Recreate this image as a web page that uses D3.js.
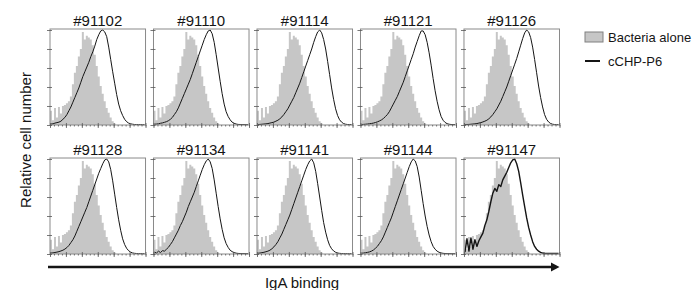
<!DOCTYPE html>
<html>
<head>
<meta charset="utf-8">
<script src="https://cdn.jsdelivr.net/npm/d3@7"></script>
<style>
  body { margin: 0; background: #fff; }
  svg { display: block; font-family: "Liberation Sans", Arial, sans-serif; }
  .frame { fill: none; stroke: #8a8a8a; stroke-width: 1; }
  .axis line { stroke: #555; stroke-width: 0.8; }
  .axis path { display: none; }
</style>
</head>
<body>
<svg id="chart" width="692" height="290"></svg>
<script>
// sample names, in reading order (two rows of five)
const samples = ["#91102", "#91110", "#91114", "#91121", "#91126",
                 "#91128", "#91134", "#91141", "#91144", "#91147"];

const binCount = 48;

// control histogram, normalised to its mode
const bacteriaAlone = [0.15,0.05,0.18,0.08,0.19,0.12,0.2,0.21,0.23,0.25,0.3,0.43,0.55,0.62,0.72,0.8,
  0.98,0.9,0.94,0.92,0.9,0.84,0.74,0.62,0.51,0.41,0.33,0.25,0.18,0.13,0.08,0.04,
  0.015,0,0,0,0,0,0,0,0,0,0,0,0,0,0,0];

// cCHP-P6 histograms, one per sample
const cchp_91102 = [0.01,0.012,0.02,0.025,0.03,0.04,0.06,0.08,0.11,0.15,0.19,0.24,0.29,0.34,0.39,0.45,
  0.51,0.56,0.61,0.66,0.72,0.77,0.83,0.9,0.95,0.99,1.0,0.98,0.93,0.82,0.69,0.56,
  0.44,0.32,0.22,0.15,0.1,0.06,0.035,0.02,0.012,0.008,0.005,0.005,0.004,0.004,0.003,0.003];
const cchp_91110 = [0.008,0.01,0.012,0.018,0.022,0.028,0.035,0.045,0.06,0.08,0.11,0.14,0.18,0.23,0.28,0.33,
  0.38,0.43,0.48,0.54,0.6,0.66,0.72,0.78,0.84,0.9,0.95,0.99,1.0,0.96,0.87,0.74,
  0.6,0.46,0.33,0.22,0.14,0.09,0.055,0.03,0.018,0.01,0.006,0.005,0.004,0.004,0.003,0.003];
const cchp_91114 = [0.005,0.006,0.008,0.01,0.012,0.015,0.02,0.025,0.03,0.04,0.05,0.065,0.085,0.11,0.14,0.17,
  0.21,0.25,0.29,0.34,0.39,0.44,0.5,0.56,0.62,0.68,0.74,0.8,0.87,0.93,0.98,1.0,
  0.97,0.9,0.8,0.67,0.53,0.39,0.27,0.17,0.1,0.055,0.03,0.015,0.008,0.005,0.005,0.004];
const cchp_91121 = [0.005,0.006,0.008,0.01,0.013,0.016,0.02,0.026,0.033,0.042,0.053,0.068,0.088,0.11,0.14,0.18,
  0.22,0.26,0.3,0.35,0.4,0.45,0.51,0.57,0.63,0.69,0.75,0.82,0.88,0.94,0.99,0.99,
  0.95,0.87,0.76,0.63,0.49,0.36,0.25,0.16,0.09,0.05,0.027,0.014,0.008,0.005,0.004,0.004];
const cchp_91126 = [0.004,0.005,0.006,0.008,0.01,0.012,0.015,0.02,0.025,0.032,0.04,0.05,0.065,0.085,0.11,0.14,
  0.17,0.21,0.25,0.3,0.35,0.4,0.46,0.52,0.58,0.64,0.7,0.77,0.84,0.91,0.97,1.0,
  0.98,0.92,0.82,0.69,0.55,0.41,0.29,0.19,0.11,0.06,0.032,0.016,0.008,0.005,0.004,0.004];
const cchp_91128 = [0.01,0.012,0.016,0.02,0.025,0.032,0.04,0.052,0.068,0.09,0.12,0.15,0.19,0.24,0.29,0.34,
  0.39,0.44,0.49,0.55,0.61,0.67,0.73,0.79,0.85,0.9,0.95,0.99,1.0,0.97,0.89,0.77,
  0.63,0.49,0.36,0.25,0.16,0.1,0.06,0.035,0.02,0.011,0.007,0.005,0.004,0.004,0.003,0.003];
const cchp_91134 = [0.02,0.01,0.03,0.015,0.035,0.03,0.05,0.07,0.1,0.13,0.17,0.21,0.25,0.3,0.34,0.39,
  0.44,0.5,0.55,0.6,0.65,0.71,0.77,0.83,0.89,0.94,0.98,1.0,0.97,0.9,0.78,0.64,
  0.5,0.37,0.26,0.17,0.11,0.07,0.04,0.025,0.015,0.009,0.006,0.005,0.004,0.004,0.003,0.003];
const cchp_91141 = [0.008,0.01,0.014,0.018,0.024,0.03,0.04,0.055,0.075,0.1,0.13,0.17,0.21,0.26,0.31,0.36,
  0.41,0.47,0.53,0.59,0.65,0.71,0.77,0.83,0.89,0.94,0.98,1.0,0.96,0.87,0.74,0.6,
  0.46,0.33,0.23,0.15,0.09,0.055,0.032,0.018,0.01,0.007,0.005,0.004,0.004,0.003,0.003,0.003];
const cchp_91144 = [0.008,0.01,0.013,0.017,0.022,0.03,0.042,0.06,0.08,0.11,0.14,0.18,0.23,0.28,0.33,0.38,
  0.44,0.5,0.56,0.62,0.68,0.74,0.8,0.86,0.92,0.97,1.0,0.98,0.92,0.81,0.67,0.53,
  0.4,0.29,0.2,0.13,0.08,0.05,0.03,0.018,0.011,0.007,0.005,0.004,0.004,0.003,0.003,0.003];
const cchp_91147 = [0.02,0.16,0.03,0.17,0.05,0.15,0.08,0.14,0.18,0.22,0.3,0.36,0.45,0.55,0.64,0.69,
  0.66,0.73,0.71,0.78,0.82,0.86,0.91,0.96,0.99,1.0,0.95,0.87,0.75,0.62,0.5,0.38,
  0.28,0.2,0.13,0.08,0.05,0.03,0.018,0.01,0.005,0.005,0.005,0.005,0.005,0.005,0.005,0.005];

const cchpSeries = [cchp_91102, cchp_91110, cchp_91114, cchp_91121, cchp_91126,
                    cchp_91128, cchp_91134, cchp_91141, cchp_91144, cchp_91147];

const legendLabels = ["Bacteria alone", "cCHP-P6"];
const xTitle = "IgA binding";
const yTitle = "Relative cell number";

const svg = d3.select("#chart");
const ink = "#151515";

const col = d3.scaleBand().domain(d3.range(5)).range([50, 559.5]).paddingInner(0.077);
const row = d3.scaleBand().domain([0, 1]).range([29, 254]).paddingInner(0.256);
const bw = col.bandwidth();
const bh = row.bandwidth();

const x = d3.scaleLinear().domain([0, binCount]).range([0, bw]);
const y = d3.scaleLinear().domain([0, 1]).range([bh, 1]);
const decades = d3.scaleLinear().domain([0, 6]).range([0, bw]);
const minor = d3.scaleLinear().domain([0, 24]).range([0, bw]);

const area = d3.area()
    .curve(d3.curveStepAfter)
    .x((d, i) => x(i))
    .y0(bh)
    .y1(d => y(d));

const line = d3.line()
    .x((d, i) => x(i + 0.5))
    .y(d => y(d));

samples.forEach((name, i) => {
    const c = i % 5, r = Math.floor(i / 5);
    const g = svg.append("g").attr("transform", `translate(${col(c)},${row(r)})`);

    g.append("path")
        .datum(bacteriaAlone.concat([bacteriaAlone[bacteriaAlone.length - 1]]))
        .attr("d", area)
        .attr("fill", "#c6c6c6");

    g.append("path")
        .datum(cchpSeries[i])
        .attr("d", line)
        .attr("fill", "none")
        .attr("stroke", ink)
        .attr("stroke-width", i === 9 ? 1.4 : 1)
        .attr("stroke-linejoin", "round");

    g.append("rect").attr("class", "frame").attr("width", bw).attr("height", bh);

    const left = g.append("g").attr("class", "axis")
        .call(d3.axisLeft(y).ticks(5).tickSize(3).tickFormat(""));
    left.selectAll(".tick line").attr("x1", 2);

    const bottom = g.append("g").attr("class", "axis").attr("transform", `translate(0,${bh})`)
        .call(d3.axisBottom(decades).ticks(6).tickSize(3).tickFormat(""));
    bottom.selectAll(".tick line").attr("y1", -2);

    g.append("g").attr("class", "axis").attr("transform", `translate(0,${bh})`)
        .call(d3.axisBottom(minor).ticks(24).tickSize(1.5).tickFormat(""));

    svg.append("text")
        .attr("x", col(c) + bw / 2)
        .attr("y", row(r) - 3.5)
        .attr("text-anchor", "middle")
        .attr("font-size", 15)
        .attr("fill", ink)
        .text(name);
});

// x axis arrow
const arrowY = 267;
svg.append("line")
    .attr("x1", 48).attr("x2", 552)
    .attr("y1", arrowY).attr("y2", arrowY)
    .attr("stroke", ink).attr("stroke-width", 2.4);
svg.append("path")
    .attr("d", `M551,${arrowY - 4.5}L559.5,${arrowY}L551,${arrowY + 4.5}Z`)
    .attr("fill", ink);

svg.append("text")
    .attr("x", 302).attr("y", 288)
    .attr("text-anchor", "middle")
    .attr("font-size", 15)
    .attr("fill", ink)
    .text(xTitle);

svg.append("text")
    .attr("transform", "translate(31,140) rotate(-90)")
    .attr("text-anchor", "middle")
    .attr("font-size", 15)
    .attr("fill", ink)
    .text(yTitle);

// legend
const legend = svg.append("g").attr("transform", "translate(585,32)");
legend.append("rect")
    .attr("width", 18).attr("height", 10)
    .attr("fill", "#c6c6c6").attr("stroke", "#808080");
legend.append("line")
    .attr("x1", 0).attr("x2", 15).attr("y1", 29).attr("y2", 29)
    .attr("stroke", ink).attr("stroke-width", 2);
legend.selectAll("text.lbl")
    .data(legendLabels)
    .join("text")
    .attr("class", "lbl")
    .attr("x", 23)
    .attr("y", (d, i) => 9.5 + i * 24)
    .attr("font-size", 13)
    .attr("fill", ink)
    .text(d => d);
</script>
</body>
</html>
